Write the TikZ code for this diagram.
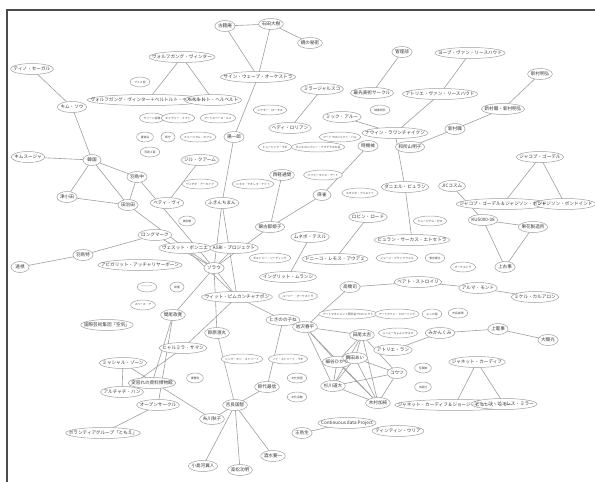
\documentclass[tikz,border=0pt]{standalone}
\usepackage{fontspec}
\newfontfamily\jp{Noto Sans CJK JP}
\usetikzlibrary{calc}
\pgfdeclarelayer{bg}
\pgfdeclarelayer{ell}
\pgfsetlayers{bg,ell,main}
\tikzset{
  lbl/.style={font=\jp\fontsize{4.6}{5}\selectfont, inner sep=0pt, text=black!78},
  slbl/.style={font=\jp\fontsize{2.8}{3}\selectfont, inner sep=0pt, text=black!75},
  ellp/.style={draw=black!38, fill=white, line width=0.5pt},
  edge/.style={draw=black!38, line width=0.6pt},
  frame/.style={draw=black!70, line width=1.5pt}
}
\newcommand\gn[4]{\node[lbl] (#1) at (#2,#3) {#4};
  \begin{pgfonlayer}{ell}\path[ellp] let \p1=($(#1.east)-(#1.west)$) in (#1.center) ellipse [x radius={max(0.5*\x1+3pt,9pt)}, y radius=5.5pt];\end{pgfonlayer}}
\newcommand\sn[4]{\node[slbl] (#1) at (#2,#3) {#4};
  \begin{pgfonlayer}{ell}\path[ellp] let \p1=($(#1.east)-(#1.west)$) in (#1.center) ellipse [x radius={max(0.5*\x1+4pt,7pt)}, y radius=5pt];\end{pgfonlayer}}
\begin{document}
\begin{tikzpicture}[x=1pt,y=-1pt]
\useasboundingbox (0,0) rectangle (595,482);
\draw[frame] (7,482) -- (7,10) -- (595,10);
% main nodes
\gn{kosho}{225}{26}{古籍庵}
\gn{ishida}{271}{24}{石田大樹}
\gn{kagami}{310}{43}{鏡の秘密}
\gn{wolf}{182}{57}{ヴォルフガング・ヴィンター}
\gn{duo}{148}{100}{ヴォルフガング・ヴィンター＋ベルトルト・ヘルベルト}
\gn{berto}{213}{100}{ベルトルト・ヘルベルト}
\gn{sine}{258}{77}{サイン・ウェーブ・オーケストラ}
\gn{yoichi}{234}{137}{陽一郎}
\gn{tino}{32}{69}{ティノ・セーガル}
\gn{kimso}{72}{107}{キム・ソウ}
\gn{kimsoo}{28}{157}{キムスージャ}
\gn{kankoku}{92}{160}{韓国}
\gn{htwo}{137}{177}{羽鳥中}
\gn{tsu}{67}{197}{津小田}
\gn{taji}{128}{205}{田治田}
\gn{jil}{200}{160}{ジル・クアーム}
\gn{betty}{167}{203}{ベティ・ヴィ}
\gn{fuki}{222}{203}{ふきんちまん}
\gn{nishi}{282}{175}{西軽通間}
\gn{nishiki}{270}{227}{錦古都姫子}
\gn{tokiki}{368}{146}{時機械}
\gn{mahjong}{322}{195}{麻雀}
\gn{long}{155}{235}{ロングマーク}
\gn{vesut}{185}{248}{ヴェスット・ボンニエ}
\gn{asri}{234}{248}{ASRI・プロジェクト}
\gn{sorau}{214}{268}{ソラウ}
\gn{abi}{140}{265}{アビガリット・アッチャリヤーボーン}
\gn{hatok}{83}{255}{羽鳥特}
\gn{enroku}{20}{267}{遠禄}
\gn{wit}{237}{297}{ウィット・ピムカンチャナポン}
\gn{mao}{173}{315}{間尾政寛}
\gn{kokusai}{107}{325}{国際芸術集団「空気」}
\gn{suzu}{217}{333}{鈴原渡丸}
\gn{hyal}{183}{348}{ヒャルミラ・サマン}
\gn{mya}{123}{363}{ミャシャル・ゾーン}
\gn{aru}{122}{392}{アルチャチ・ハン}
\gn{henyo}{152}{383}{変容れの資料博物館}
\gn{open}{158}{405}{オープンサークル}
\gn{vol}{103}{433}{ボランティアグループ「ともえ」}
\gn{suzushiro}{267}{387}{鈴代最信}
\gn{kira}{235}{405}{吉良国智}
\gn{itokawa}{212}{419}{糸川秋子}
\gn{ojima}{203}{466}{小島河翼人}
\gn{takamatsu}{240}{470}{高松功明}
\gn{sakemizu}{273}{456}{酒水要一}
\gn{kinoko}{283}{320}{ときのの子ね}
\gn{iwasawa}{305}{327}{岩沢春平}
\gn{taka}{350}{287}{高橋司}
\gn{beat}{418}{282}{ベアト・ストロイリ}
\gn{alma}{478}{288}{アルマ・モント}
\gn{miguel}{535}{297}{ミケル・カルアロン}
\gn{tao}{362}{335}{田尾太吉}
\gn{mikan}{440}{333}{みかんくみ}
\gn{joden}{498}{329}{上電事}
\gn{daibaku}{548}{340}{大曝光}
\gn{atoran}{393}{350}{アトリエ・ラン}
\gn{hosoya}{337}{362}{細谷ひかり}
\gn{tsuruta}{355}{358}{鶴田あい}
\gn{kouts}{397}{373}{コウツ}
\gn{sugi}{333}{386}{杉川道大}
\gn{kimura}{378}{403}{木村加純}
\gn{janet}{477}{362}{ジャネット・カーディフ}
\gn{jandg}{455}{405}{ジャネット・カーディフ＆ジョージ・ビュレス・ミラー}
\gn{george}{504}{404}{ジョージ・ビュレス・ミラー}
\gn{cont}{347}{423}{Continuous data Project}
\gn{tintin}{398}{431}{ティンティン・ウリア}
\gn{oto}{302}{433}{王鳥生}
\gn{kanri}{402}{52}{管理部}
\gn{joep}{470}{53}{ヨープ・ヴァン・リースハウト}
\gn{mirage}{322}{89}{ミラージャルスコ}
\gn{saisen}{372}{93}{最先美術サークル}
\gn{avl}{440}{94}{アトリエ・ヴァン・リースハウト}
\gn{mick}{342}{117}{ミック・アルー}
\gn{hedi}{290}{128}{ヘディ・ロリアン}
\gn{navin}{395}{133}{ナウィン・ラワンチャイクン}
\gn{wasyo}{410}{147}{和所山明子}
\gn{niia}{540}{74}{新村明弘}
\gn{niib}{503}{109}{新村職・新村明弘}
\gn{niic}{455}{129}{新村職}
\gn{buren}{405}{187}{ダニエル・ビュラン}
\gn{circus}{412}{240}{ビュラン・サーカス・エトセトラ}
\gn{jic}{452}{186}{JICコスム}
\gn{jacob}{540}{157}{ジャコブ・ゴーデル}
\gn{jga}{503}{204}{ジャコブ・ゴーデル＆ジャジソン・ボンド}
\gn{jgb}{565}{204}{ジャジソン・ボンドインド}
\gn{kus}{483}{220}{KUS000-08}
\gn{kaka}{533}{227}{果花製造所}
\gn{jouko}{505}{267}{上古事}
\gn{robin}{368}{217}{ロビン・ロード}
\gn{doniko}{335}{259}{ドニーコ・レモス・アウアェ}
\gn{mune}{310}{237}{ムネボ・テスル}
\gn{ingrid}{288}{277}{イングリット・ムランシ}
% small nodes
\sn{sa}{140}{82}{アニメ部}
\sn{sb}{152}{118}{グリーン会館}
\sn{sc}{178}{118}{ギャラリー・ミナト}
\sn{sd}{218}{118}{アートスペース・ルミ}
\sn{se}{145}{137}{書道会}
\sn{sf}{168}{137}{県庁}
\sn{sg}{198}{137}{ミュージアム・カフェ}
\sn{sh}{150}{152}{写真工房}
\sn{si}{270}{110}{シアター・ロータス}
\sn{sj}{275}{147}{ミュージック・ラボ}
\sn{sk}{380}{110}{映像研究}
\sn{sl}{340}{137}{アートプロジェクト・ハル}
\sn{sm}{318}{147}{ダンスカンパニー・アマテラスの会}
\sn{sn}{200}{184}{ヴィデオ・アーカイブ}
\sn{so}{253}{184}{シネマ・テオレマ・ナイト}
\sn{sp}{187}{221}{美術館}
\sn{sq}{270}{258}{ポエトリー・リーディング}
\sn{sr}{147}{287}{ーーーー}
\sn{ss}{177}{287}{県警}
\sn{st}{298}{296}{ルージー・オーケストラ}
\sn{su}{143}{305}{スペース・ア}
\sn{sv}{323}{175}{パフォーマンス・アート}
\sn{sw}{360}{193}{スタジオ・クリエイト}
\sn{sx}{430}{221}{ミュージアム・ゼロ}
\sn{sy}{397}{258}{ショーン・グラッドウェル}
\sn{sz}{435}{258}{東京都立}
\sn{ta}{348}{314}{アートマネジメント研究会プロジェクト}
\sn{tb}{397}{314}{アートカフェ・ドローイング}
\sn{tc}{432}{314}{ぷっか稲}
\sn{td}{463}{267}{オーケストラ}
\sn{te}{458}{313}{市民劇場}
\sn{tf}{242}{359}{シング・オン・ストリート}
\sn{tg}{288}{359}{ノイ・ストリート・ラボ}
\sn{th}{195}{378}{事務局}
\sn{ti}{297}{378}{文化財団}
\sn{tj}{297}{397}{文化会館}
\sn{tk}{398}{333}{ふっふーちょんとからす}
\sn{tl}{423}{368}{写真館}
\sn{tm}{423}{387}{出版社}
% edges
\begin{pgfonlayer}{bg}
\foreach \a/\b in {kosho/ishida, ishida/kagami, kosho/sine, ishida/sine, sine/yoichi,
  yoichi/fuki, fuki/sorau, fuki/wit, wolf/duo, wolf/berto,
  tino/kimso, kimso/kankoku, kimsoo/kankoku, kankoku/htwo, kankoku/tsu, kankoku/taji,
  tsu/taji, htwo/taji, htwo/sorau, taji/vesut, long/sorau, long/hatok, enroku/hatok,
  jil/betty, nishi/nishiki, nishiki/sorau, tokiki/mahjong, mahjong/nishiki,
  sorau/wit, sorau/mao, sorau/suzu, vesut/wit, asri/sorau, vesut/sorau,
  wit/kinoko, mao/open, mao/henyo, hyal/aru, hyal/wit, mya/aru, mya/itokawa, vol/open,
  suzu/kira, kira/suzushiro, kira/itokawa, kira/ojima, kira/takamatsu, kira/sakemizu,
  suzushiro/kinoko, taka/beat, taka/iwasawa, beat/alma, alma/miguel,
  iwasawa/tao, iwasawa/hosoya, iwasawa/sugi, iwasawa/kimura, tao/hosoya, tao/tsuruta,
  tao/sugi, tao/kouts, tao/kimura, hosoya/sugi, tsuruta/sugi, tsuruta/kouts,
  hosoya/kimura, tsuruta/kimura, sugi/kimura, sugi/kouts, kimura/kouts,
  mikan/joden, joden/daibaku, mikan/atoran, janet/jandg, janet/george, oto/cont,
  kanri/saisen, joep/avl, avl/navin, mick/navin, mirage/hedi, navin/buren,
  buren/circus, wasyo/niic, niic/niib, niib/niia, jacob/jga, jacob/jgb,
  jic/kus, kus/kaka, kus/jouko, kaka/jouko, robin/doniko, mune/ingrid}
  \draw[edge] (\a) -- (\b);
\end{pgfonlayer}
\end{tikzpicture}
\end{document}
